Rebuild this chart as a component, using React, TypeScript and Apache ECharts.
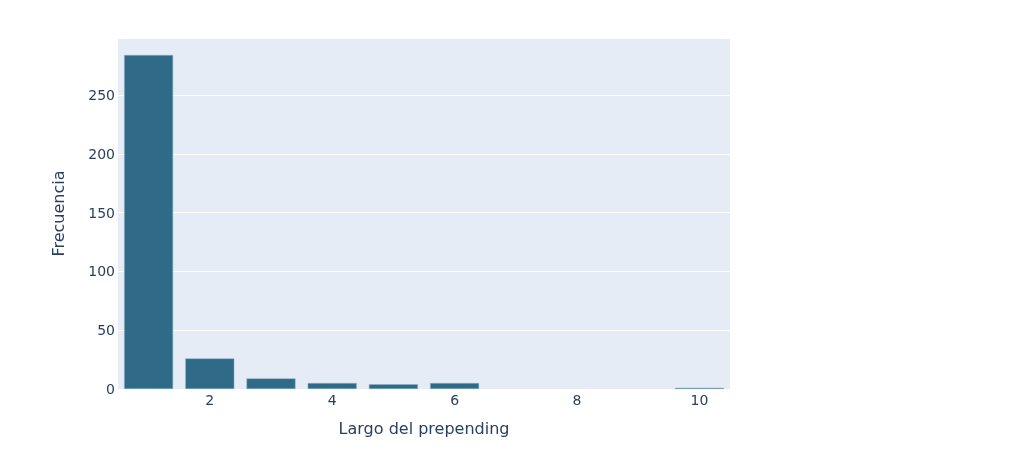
import React, { useEffect, useRef } from "react";
import * as echarts from "echarts";

const categories = ["1", "2", "3", "4", "5", "6", "7", "8", "9", "10"];
const frequencies = [284, 26, 9, 5, 4, 5, 0, 0, 0, 1];
const yTicks = [0, 50, 100, 150, 200, 250];
const xTitle = "Largo del prepending";
const yTitle = "Frecuencia";

export default function App() {
  const ref = useRef<HTMLDivElement>(null);
  useEffect(() => {
    document.body.style.margin = "0";
    const chart = echarts.init(ref.current!, null, { renderer: "svg" });
    const font = '"DejaVu Sans", Verdana, sans-serif';
    const textColor = "#2a3f5f";
    const barData = frequencies.map((v) => ({
      value: v,
      itemStyle: v === 0 ? { borderWidth: 0 } : {},
    }));
    chart.setOption({
      animation: false,
      grid: {
        left: 118,
        right: 294,
        top: 38,
        bottom: 83,
        show: true,
        backgroundColor: "#e5ecf6",
        borderWidth: 0,
      },
      xAxis: {
        type: "category",
        data: categories,
        name: xTitle,
        nameLocation: "middle",
        nameGap: 31,
        nameTextStyle: { fontFamily: font, fontSize: 16, color: textColor },
        axisLine: { show: false },
        axisTick: { show: false },
        splitLine: { show: false },
        axisLabel: {
          interval: (i: number) => (i + 1) % 2 === 0,
          margin: 4,
          fontFamily: font,
          fontSize: 14,
          color: textColor,
        },
      },
      yAxis: {
        type: "value",
        min: yTicks[0],
        max: 298.5,
        interval: 50,
        name: yTitle,
        nameLocation: "middle",
        nameGap: 52,
        nameTextStyle: { fontFamily: font, fontSize: 16, color: textColor },
        axisLine: { show: false },
        axisTick: { show: false },
        splitLine: { show: true, lineStyle: { color: "#ffffff", width: 1 } },
        axisLabel: {
          showMaxLabel: false,
          margin: 3,
          fontFamily: font,
          fontSize: 14,
          color: textColor,
        },
      },
      series: [
        {
          type: "bar",
          data: barData,
          barCategoryGap: "20%",
          itemStyle: {
            color: "#2f6b88",
            borderColor: "#8fb0c2",
            borderWidth: 0.5,
          },
        },
      ],
    });
    return () => chart.dispose();
  }, []);
  return (
    <div
      ref={ref}
      style={{ position: "fixed", left: 0, top: 0, width: 1024, height: 472 }}
    />
  );
}
